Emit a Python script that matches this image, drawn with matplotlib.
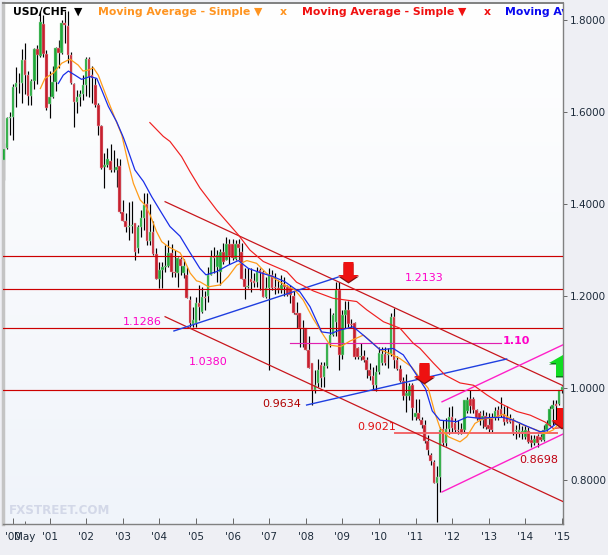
import matplotlib
matplotlib.use('Agg')
import matplotlib.pyplot as plt
from matplotlib.patches import Polygon
import numpy as np

#Monthly candles, index 0 = Sep 1999
opens = [1.543,1.495,1.521,1.586,1.59,1.654,1.664,1.663,1.714,1.68,
         1.635,1.668,1.738,1.722,1.792,1.727,1.617,1.632,1.666,1.74,
         1.729,1.794,1.787,1.724,1.661,1.622,1.632,1.640,1.658,1.716,
         1.68,1.658,1.616,1.57,1.481,1.485,1.494,1.476,1.474,1.483,
         1.383,1.364,1.351,1.353,1.358,1.305,1.351,1.369,1.40,1.32,
         1.34,1.291,1.238,1.257,1.262,1.265,1.294,1.253,1.25,1.28,
         1.25,1.245,1.191,1.14,1.141,1.185,1.166,1.197,1.199,1.246,
         1.284,1.264,1.253,1.296,1.278,1.314,1.313,1.28,1.313,1.295,
         1.238,1.219,1.236,1.233,1.23,1.257,1.253,1.197,1.217,1.245,
         1.22,1.217,1.213,1.224,1.22,1.217,1.2,1.162,1.162,1.13,
         1.13,1.083,1.054,0.996,1.01,1.05,1.023,1.048,1.096,1.115,
         1.144,1.213,1.072,1.158,1.17,1.14,1.142,1.086,1.067,1.07,
         1.061,1.039,1.026,1.006,1.035,1.054,1.074,1.071,1.075,1.155,
         1.06,1.041,1.016,0.983,0.983,1.006,0.936,0.945,0.93,0.92,
         0.885,0.854,0.84,0.793,0.807,0.91,0.88,0.91,0.937,0.923,
         0.908,0.91,0.908,0.95,0.977,0.977,0.952,0.945,0.93,0.94,
         0.919,0.934,0.934,0.953,0.955,0.941,0.937,0.93,0.93,0.906,
         0.905,0.903,0.893,0.907,0.887,0.881,0.895,0.893,0.888,0.908,
         0.919,0.955,0.966,0.966,0.995]
highs = [1.553,1.532,1.59,1.60,1.66,1.697,1.684,1.738,1.751,1.69,
         1.672,1.74,1.745,1.82,1.81,1.735,1.69,1.70,1.742,1.757,
         1.80,1.82,1.82,1.73,1.663,1.648,1.648,1.68,1.72,1.72,
         1.70,1.673,1.619,1.572,1.51,1.521,1.53,1.517,1.50,1.497,
         1.409,1.38,1.405,1.407,1.358,1.355,1.387,1.423,1.425,1.40,
         1.362,1.304,1.275,1.275,1.311,1.322,1.314,1.30,1.285,1.285,
         1.28,1.264,1.20,1.176,1.197,1.224,1.22,1.21,1.263,1.30,
         1.307,1.30,1.303,1.315,1.328,1.323,1.325,1.322,1.325,1.315,
         1.26,1.26,1.26,1.25,1.264,1.26,1.257,1.242,1.26,1.257,
         1.249,1.235,1.245,1.242,1.224,1.224,1.21,1.188,1.162,1.147,
         1.13,1.112,1.054,1.04,1.062,1.057,1.057,1.097,1.173,1.162,
         1.231,1.231,1.17,1.19,1.19,1.15,1.144,1.09,1.097,1.082,
         1.068,1.054,1.046,1.05,1.09,1.09,1.09,1.086,1.162,1.173,
         1.07,1.05,1.025,1.03,1.01,1.01,0.977,0.977,0.937,0.93,
         0.898,0.858,0.843,0.83,0.915,0.93,0.935,0.958,0.96,0.935,
         0.93,0.925,0.975,0.98,0.995,0.98,0.955,0.95,0.952,0.948,
         0.945,0.945,0.958,0.96,0.98,0.96,0.96,0.944,0.934,0.92,
         0.927,0.917,0.92,0.915,0.898,0.898,0.90,0.90,0.92,0.93,
         0.96,0.974,0.975,0.996,1.005]
lows = [1.48,1.452,1.52,1.55,1.54,1.61,1.641,1.619,1.64,1.615,
        1.615,1.65,1.66,1.72,1.72,1.605,1.588,1.63,1.645,1.695,
        1.727,1.75,1.706,1.66,1.567,1.597,1.612,1.626,1.635,1.633,
        1.619,1.61,1.55,1.477,1.434,1.48,1.47,1.47,1.438,1.38,
        1.362,1.34,1.322,1.336,1.278,1.294,1.329,1.343,1.311,1.311,
        1.289,1.238,1.217,1.217,1.253,1.264,1.242,1.242,1.22,1.246,
        1.24,1.195,1.133,1.133,1.133,1.148,1.162,1.17,1.187,1.245,
        1.249,1.23,1.224,1.27,1.278,1.27,1.278,1.278,1.278,1.238,
        1.193,1.217,1.209,1.22,1.22,1.213,1.197,1.195,1.039,1.213,
        1.204,1.206,1.206,1.20,1.20,1.184,1.16,1.13,1.09,1.09,
        1.083,1.043,0.963,0.99,1.003,1.003,1.003,1.043,1.09,1.112,
        1.112,1.039,1.064,1.13,1.133,1.13,1.064,1.064,1.06,1.057,
        1.021,1.017,0.996,0.994,1.03,1.05,1.05,1.043,1.07,1.043,
        1.04,1.014,0.975,0.948,0.975,0.93,0.93,0.93,0.912,0.88,
        0.854,0.832,0.793,0.708,0.775,0.875,0.875,0.90,0.905,0.902,
        0.90,0.899,0.905,0.945,0.945,0.945,0.93,0.92,0.912,0.91,
        0.905,0.904,0.93,0.93,0.937,0.92,0.923,0.923,0.897,0.89,
        0.894,0.89,0.89,0.88,0.872,0.876,0.871,0.885,0.885,0.906,
        0.918,0.92,0.93,0.962,0.99]
closes = [1.495,1.519,1.586,1.59,1.654,1.664,1.663,1.714,1.68,1.635,
          1.668,1.738,1.724,1.795,1.726,1.608,1.632,1.666,1.74,1.729,
          1.794,1.79,1.724,1.662,1.622,1.632,1.64,1.658,1.716,1.677,
          1.673,1.615,1.57,1.479,1.485,1.497,1.475,1.476,1.481,1.383,
          1.364,1.351,1.353,1.354,1.296,1.351,1.37,1.398,1.32,1.34,
          1.291,1.238,1.257,1.262,1.265,1.294,1.253,1.25,1.282,1.265,
          1.265,1.195,1.141,1.148,1.185,1.176,1.197,1.195,1.246,1.284,
          1.282,1.289,1.296,1.275,1.314,1.286,1.282,1.313,1.304,1.238,
          1.22,1.222,1.231,1.229,1.253,1.25,1.197,1.217,1.245,1.217,
          1.217,1.213,1.224,1.22,1.202,1.202,1.162,1.159,1.13,1.128,
          1.083,1.043,0.996,1.006,1.04,1.021,1.048,1.096,1.115,1.158,
          1.213,1.072,1.158,1.17,1.14,1.138,1.067,1.068,1.07,1.061,
          1.039,1.026,1.006,1.035,1.077,1.075,1.054,1.075,1.155,1.06,
          1.041,1.016,0.983,0.99,1.005,0.956,0.945,0.932,0.92,0.885,
          0.865,0.842,0.793,0.807,0.909,0.88,0.91,0.937,0.912,0.909,
          0.906,0.903,0.973,0.973,0.96,0.952,0.934,0.93,0.94,0.915,
          0.91,0.908,0.95,0.934,0.941,0.927,0.927,0.926,0.905,0.909,
          0.908,0.907,0.908,0.883,0.88,0.89,0.88,0.888,0.908,0.922,
          0.955,0.962,0.96,0.995,1.002]

#Moving averages, read at sample points (candle index, price)
orange_x = [13,14.5,17.3,20,22.7,25.4,27,28.7,30.4,32,34.7,37.5,39.7,41.8,43.5,45.7,47.3,49,51.1,52.8,
            55,58.8,60.4,62.1,64.2,65.3,68.1,71.9,74.6,77.4,80.7,83.9,87.2,90.5,93.2,96.5,99.2,102.5,105.8,108,
            111.5,114.5,118.9,121.6,124.4,127.6,130.9,134.7,138,140.2,142.4,144.1,146.8,150.6,152.8,155.5,158.3,161,164.8,168.1,
            171.4,175.2,178.5,181.2,184]
orange_y = [1.651,1.673,1.685,1.706,1.715,1.702,1.689,1.691,1.696,1.68,1.633,1.586,1.55,1.489,1.445,1.409,1.398,1.376,1.34,1.318,
            1.307,1.294,1.275,1.25,1.233,1.231,1.22,1.224,1.242,1.267,1.277,1.271,1.249,1.235,1.224,1.213,1.191,1.15,1.115,1.093,
            1.09,1.102,1.115,1.1,1.083,1.075,1.064,1.046,1.017,0.999,0.945,0.912,0.894,0.883,0.894,0.923,0.934,0.934,0.943,0.93,
            0.919,0.91,0.901,0.909,0.93]
blue_x = [18.9,20.5,22.2,24.4,26.5,29.3,31.5,33.1,35.3,38,40.2,41.3,44,46.8,49.5,52.8,55.5,58.8,62,65.3,
          67.3,70.8,74.6,77.9,81.2,85,89.4,93.2,97,98.1,101.4,105.2,108.5,111.2,115.6,119.4,124.4,128.7,132,136.4,
          139.3,141.5,144,149.5,153,157.2,161,164.8,168.1,172.5,176.8,179,182.3,184.3]
blue_y = [1.662,1.68,1.689,1.68,1.671,1.677,1.673,1.648,1.612,1.579,1.545,1.525,1.474,1.449,1.416,1.38,1.351,1.33,1.295,1.26,
          1.246,1.253,1.267,1.277,1.26,1.251,1.242,1.231,1.213,1.209,1.177,1.122,1.119,1.126,1.133,1.112,1.083,1.086,1.072,1.028,
          0.998,0.95,0.93,0.927,0.937,0.934,0.936,0.936,0.93,0.917,0.905,0.907,0.923,0.93]
red_x = [48.9,53.3,55.5,59.3,62.1,65.3,70.8,77.9,81.7,86.1,93.8,97,102.5,109,116.7,120,125.5,130.9,135.3,137.5,
         141.9,145.7,150.6,155,159.4,163.7,169.2,173.6,178.5,181.2,184]
red_y = [1.577,1.547,1.536,1.503,1.47,1.435,1.387,1.333,1.30,1.275,1.253,1.23,1.211,1.195,1.188,1.17,1.144,1.13,1.097,1.086,
         1.054,1.028,1.011,1.006,0.985,0.967,0.949,0.941,0.926,0.912,0.914]

#Levels and trend lines
levels = [1.287, 1.215, 1.130, 0.9957]
upper_channel = ([53.9, 184.4], [1.405, 1.005])
lower_channel = ([53.9, 184.4], [1.155, 0.753])
blue_trend_1 = ([56.8, 110.6], [1.124, 1.241])
blue_trend_2 = ([100.3, 165.9], [0.963, 1.063])
pink_upper = ([144.7, 184.4], [0.970, 1.094])
pink_lower = ([144.7, 184.4], [0.774, 0.900])

year_ticks = [4, 8, 16, 28, 40, 52, 64, 76, 88, 100, 112, 124, 136, 148, 160, 172, 184]
year_labels = ["'00", "May", "'01", "'02", "'03", "'04", "'05", "'06", "'07", "'08",
               "'09", "'10", "'11", "'12", "'13", "'14", "'15"]
price_ticks = [0.8, 1.0, 1.2, 1.4, 1.6, 1.8]

W, H = 608, 555
BG = '#eeeff4'
UP = '#1fa838'
DOWN = '#c6202e'
PINK = '#ff00c8'

fig = plt.figure(figsize=(W / 100, H / 100), dpi=100, facecolor=BG)
ax = fig.add_axes([3 / W, 1 - 524 / H, 560 / W, 521 / H])

#px helpers: the candle axis runs 3.05 px per month, 460 px per price unit
def ix(px):
    return (px - 0.7) / 3.05

def pr(py):
    return 1.8 - (py - 20) / 460

    #background gradient
grad = np.linspace(0, 1, 256).reshape(-1, 1)
top = np.array([1, 1, 1])
bot = np.array([0xf0, 0xf4, 0xfa]) / 255
ax.imshow(top + (bot - top) * grad[:, :, None], extent=(0, 1, 0, 1), transform=ax.transAxes,
          aspect='auto', zorder=0)
ax.set_xlim(ix(3), ix(563))
ax.set_ylim(pr(524), pr(3))

    #candles
n = np.arange(len(opens))
o, h, l, c = map(np.array, (opens, highs, lows, closes))
up = c >= o
ax.vlines(n, l, h, color='black', lw=0.85, zorder=2)
ax.bar(n[up], (c - o)[up], bottom=o[up], width=0.85, color=UP, lw=0.3, edgecolor='#9fd8a8', zorder=3)
ax.bar(n[~up], (c - o)[~up], bottom=o[~up], width=0.85, color=DOWN, lw=0.3, edgecolor='#eeb0b8', zorder=3)

    #horizontal levels
for lev in levels:
    ax.axhline(lev, color='#cc0000', lw=0.85, zorder=4)
ax.plot([ix(395), ix(557)], [0.9028, 0.9028], color='#f2686a', lw=1.4, zorder=4)
ax.plot([ix(290), ix(501)], [1.098, 1.098], color='#e020b0', lw=0.85, zorder=4)

    #trend lines
ax.plot(*upper_channel, color='#c8161c', lw=0.9, zorder=4)
ax.plot(*lower_channel, color='#c8161c', lw=0.9, zorder=4)
ax.plot(*blue_trend_1, color='#1f3fe0', lw=1.0, zorder=4)
ax.plot(*blue_trend_2, color='#1f3fe0', lw=1.0, zorder=4)
ax.plot(*pink_upper, color='#ff20c8', lw=1.0, zorder=4)
ax.plot(*pink_lower, color='#ff20c8', lw=1.0, zorder=4)

    #moving averages
ax.plot(red_x, red_y, color='#f02020', lw=0.85, zorder=5)
ax.plot(orange_x, orange_y, color='#ff9c1a', lw=0.9, zorder=5)
ax.plot(blue_x, blue_y, color='#1a2ee8', lw=0.9, zorder=6)

    #arrows
def arrow(cx, tip, head_w, shaft_w, head_h, total, face, dark, down=True):
    s = 1 if down else -1
    pts = [(cx, tip), (cx - head_w, tip - s * head_h), (cx - shaft_w, tip - s * head_h),
           (cx - shaft_w, tip - s * total), (cx + shaft_w, tip - s * total),
           (cx + shaft_w, tip - s * head_h), (cx + head_w, tip - s * head_h)]
    shadow = [(ix(x), pr(y + 1.5)) for x, y in pts]
    body = [(ix(x), pr(y)) for x, y in pts]
    ax.add_patch(Polygon(shadow, closed=True, fc=dark, ec='none', zorder=7))
    ax.add_patch(Polygon(body, closed=True, fc=face, ec='none', zorder=8))

arrow(348.5, 282, 10.5, 5, 7, 20, '#ee1111', '#7a1010')
arrow(424.5, 383, 10.5, 5, 7, 20, '#ee1111', '#7a1010')
arrow(562, 428, 10.5, 5, 8, 20, '#ee1111', '#7a1010')
arrow(563, 355, 14, 7, 8, 21, '#11dd22', '#0b7a18', down=False)

    #price labels
ax.text(ix(405), pr(278), '1.2133', color=PINK, fontsize=8, va='center', zorder=9)
ax.text(ix(503), pr(341), '1.10', color=PINK, fontsize=8, fontweight='bold', va='center', zorder=9)
ax.text(ix(123), pr(322), '1.1286', color=PINK, fontsize=8, va='center', zorder=9)
ax.text(ix(189), pr(362), '1.0380', color=PINK, fontsize=8, va='center', zorder=9)
ax.text(ix(262), pr(404), '0.9634', color='#b00000', fontsize=8, va='center', zorder=9)
ax.text(ix(357), pr(427), '0.9021', color='#e01010', fontsize=8, va='center', zorder=9)
ax.text(ix(519), pr(460), '0.8698', color='#c00010', fontsize=8, va='center', zorder=9)

    #legend row
top_row = dict(fontsize=7.8, fontweight='bold', va='center', clip_on=True, zorder=10)
ax.text(ix(13), pr(12), 'USD/CHF', color='black', **top_row)
ax.text(ix(74), pr(12), '\u25BC', color='black', **top_row)
ax.text(ix(98), pr(12), 'Moving Average - Simple \u25BC', color='#ff9420', **top_row)
ax.text(ix(280), pr(12), 'x', color='#ff9420', **top_row)
ax.text(ix(302), pr(12), 'Moving Average - Simple \u25BC', color='#f01010', **top_row)
ax.text(ix(484), pr(12), 'x', color='#f01010', **top_row)
ax.text(ix(505), pr(12), 'Moving Average - Simple \u25BC', color='#0808f0', **top_row)

    #watermark
ax.text(ix(9), pr(510), 'FXSTREET.COM', color='#d3d8e8', fontsize=8.6, fontweight='bold', va='center', zorder=1)

    #axes
ax.set_xticks(year_ticks)
ax.set_xticklabels(year_labels)
ax.set_yticks(price_ticks)
ax.set_yticklabels(['%.4f' % v for v in price_ticks])
ax.yaxis.tick_right()
ax.tick_params(axis='x', direction='in', length=4, width=0.7, color='#666666', labelsize=7.5,
               labelcolor='#1c2a3a', pad=6)
ax.tick_params(axis='y', direction='out', length=3, width=0.7, color='#666666', labelsize=7.5,
               labelcolor='#1c2a3a', pad=2)
may = ax.xaxis.get_major_ticks()[1]
may.tick1line.set_color('black')
may.tick1line.set_markersize(2)

for side in ['top', 'right', 'bottom']:
    ax.spines[side].set_color('#808080')
    ax.spines[side].set_linewidth(1.0)
ax.spines['top'].set_linewidth(1.4)
ax.spines['left'].set_color('#c4c4c4')
ax.spines['left'].set_linewidth(2.5)

fig.savefig('out.png', dpi=100, facecolor=BG)
